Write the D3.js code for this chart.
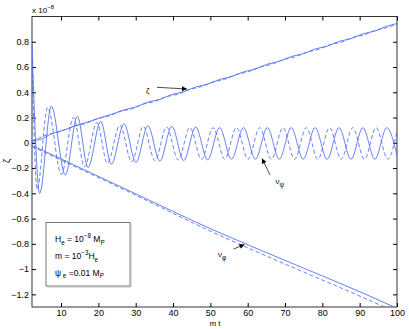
<!DOCTYPE html>
<html>
<head>
<meta charset="utf-8">
<script src="https://cdn.jsdelivr.net/npm/d3@7"></script>
<style>
  body { margin: 0; background: #fff; }
  text { font-family: "Liberation Sans", Arial, sans-serif; fill: #000; }
</style>
</head>
<body>
<div id="chart"></div>
<script>
// tick values
const xTicks = [10, 20, 30, 40, 50, 60, 70, 80, 90, 100];
const yTicks = [0.8, 0.6, 0.4, 0.2, 0, -0.2, -0.4, -0.6, -0.8, -1, -1.2];

// zeta (solid / dashed), [m t, value x 1e-8]
const zetaSolid = [
  [2.22, 0.02], [4.28, 0.025], [7.39, 0.07], [11.14, 0.105], [14.36, 0.14],
  [17.23, 0.165], [20.63, 0.2], [23.47, 0.225], [26.87, 0.26], [30.07, 0.284],
  [33.27, 0.322], [36.47, 0.344], [39.67, 0.382], [42.87, 0.404], [46.07, 0.442],
  [49.27, 0.464], [52.47, 0.502], [55.67, 0.524], [58.87, 0.562], [62.07, 0.584],
  [65.27, 0.623], [68.47, 0.645], [71.67, 0.683], [74.87, 0.705], [78.07, 0.743],
  [81.27, 0.765], [84.47, 0.803], [87.67, 0.825], [90.87, 0.863], [94.07, 0.885],
  [97.27, 0.923], [100, 0.945]
];
const zetaDashed = [
  [2.22, 0.012], [3.6, 0.031], [6.4, 0.065], [10.1, 0.092], [13.3, 0.13],
  [16.3, 0.15], [19.6, 0.189], [22.4, 0.208], [25.8, 0.248], [28.92, 0.269],
  [32.04, 0.306], [35.16, 0.328], [38.27, 0.365], [41.39, 0.386], [44.51, 0.423],
  [47.63, 0.445], [50.74, 0.482], [53.86, 0.503], [56.98, 0.541], [60.1, 0.562],
  [63.22, 0.599], [66.34, 0.621], [69.45, 0.658], [72.57, 0.679], [75.69, 0.716],
  [78.81, 0.738], [81.92, 0.775], [85.04, 0.796], [88.16, 0.834], [91.28, 0.855],
  [94.4, 0.892], [97.52, 0.914], [100, 0.941]
];

// nu_psi, oscillating (peaks and troughs)
const nuPsiSolid = [
  [2.22, 0.78], [4.28, -0.4], [7.39, 0.29], [11.14, -0.255], [14.36, 0.21],
  [17.23, -0.195], [20.63, 0.17], [23.47, -0.17], [26.87, 0.15], [30.07, -0.155],
  [33.27, 0.135], [36.47, -0.145], [39.67, 0.13], [42.87, -0.14], [46.07, 0.125],
  [49.27, -0.135], [52.47, 0.12], [55.67, -0.13], [58.87, 0.12], [62.07, -0.13],
  [65.27, 0.12], [68.47, -0.13], [71.67, 0.12], [74.87, -0.13], [78.07, 0.12],
  [81.27, -0.13], [84.47, 0.12], [87.67, -0.13], [90.87, 0.12], [94.07, -0.13],
  [97.27, 0.12], [100, -0.1]
];
const nuPsiDashed = [
  [2.22, 0.65], [3.6, -0.37], [6.4, 0.28], [10.1, -0.25], [13.3, 0.2],
  [16.3, -0.19], [19.6, 0.16], [22.4, -0.16], [25.8, 0.14], [28.92, -0.15],
  [32.04, 0.13], [35.16, -0.14], [38.27, 0.125], [41.39, -0.135], [44.51, 0.12],
  [47.63, -0.13], [50.74, 0.12], [53.86, -0.13], [56.98, 0.12], [60.1, -0.13],
  [63.22, 0.12], [66.34, -0.13], [69.45, 0.12], [72.57, -0.13], [75.69, 0.12],
  [78.81, -0.13], [81.92, 0.12], [85.04, -0.13], [88.16, 0.12], [91.28, -0.13],
  [94.4, 0.12], [97.52, -0.13], [100, 0.095]
];

// nu_phi, falling lines
const nuPhiSolid = [[2.22, -0.02], [27.9, -0.375], [50.8, -0.69], [70, -0.931], [90.9, -1.19], [100, -1.31]];
const nuPhiDashed = [[2.22, -0.03], [27.9, -0.385], [50.8, -0.71], [70, -0.96], [90.9, -1.225], [100, -1.345]];

const width = 409, height = 329;
const margin = { top: 16.5, right: 12, bottom: 22, left: 32 };
const lineColor = "#4a6af3";

const svg = d3.select("#chart").append("svg")
  .attr("width", width)
  .attr("height", height);

const x = d3.scaleLinear().domain([2.22, 100]).range([margin.left, width - margin.right]);
const y = d3.scaleLinear().domain([-1.3, 1.0]).range([height - margin.bottom, margin.top]);

// clip lines to the axes box
svg.append("clipPath").attr("id", "plot-clip")
  .append("rect")
  .attr("x", margin.left).attr("y", margin.top)
  .attr("width", width - margin.left - margin.right)
  .attr("height", height - margin.top - margin.bottom);

const fmt = d => d3.format("")(d);

// axes: ticks point inward, like the original
svg.append("g")
  .attr("transform", `translate(0,${height - margin.bottom})`)
  .call(d3.axisBottom(x).tickValues(xTicks).tickSize(-4).tickPadding(3).tickSizeOuter(0))
  .call(g => g.selectAll("text").style("font-size", "9px"));
svg.append("g")
  .attr("transform", `translate(0,${margin.top})`)
  .call(d3.axisTop(x).tickValues(xTicks).tickSize(-4).tickSizeOuter(0).tickFormat(""));
svg.append("g")
  .attr("transform", `translate(${margin.left},0)`)
  .call(d3.axisLeft(y).tickValues(yTicks).tickSize(-4).tickPadding(3).tickSizeOuter(0).tickFormat(fmt))
  .call(g => g.selectAll("text").style("font-size", "9px"));
svg.append("g")
  .attr("transform", `translate(${width - margin.right},0)`)
  .call(d3.axisRight(y).tickValues(yTicks).tickSize(-4).tickSizeOuter(0).tickFormat(""));

svg.selectAll(".domain").remove();
svg.append("rect")
  .attr("x", margin.left).attr("y", margin.top)
  .attr("width", width - margin.left - margin.right)
  .attr("height", height - margin.top - margin.bottom)
  .attr("fill", "none").attr("stroke", "#000").attr("stroke-width", 0.8);

// curves
const line = d3.line()
  .x(d => x(d[0]))
  .y(d => y(d[1]))
  .curve(d3.curveMonotoneX);

const series = [
  [zetaSolid, false], [zetaDashed, true],
  [nuPsiSolid, false], [nuPsiDashed, true],
  [nuPhiSolid, false], [nuPhiDashed, true]
];
svg.append("g").attr("clip-path", "url(#plot-clip)")
  .selectAll("path")
  .data(series)
  .join("path")
  .attr("d", d => line(d[0]))
  .attr("fill", "none")
  .attr("stroke", lineColor)
  .attr("stroke-width", 0.85)
  .attr("stroke-dasharray", d => d[1] ? "4,2.5" : null);

// annotation arrows
svg.append("defs").append("marker")
  .attr("id", "head")
  .attr("viewBox", "0 0 10 10")
  .attr("refX", 10).attr("refY", 5)
  .attr("markerWidth", 6).attr("markerHeight", 5)
  .attr("markerUnits", "userSpaceOnUse")
  .attr("orient", "auto")
  .append("path").attr("d", "M0,0L10,5L0,10Z").attr("fill", "#000");

const arrows = [
  [157, 87.3, 187, 89],
  [270, 175, 262, 158.5],
  [233.5, 249, 244.5, 244.5]
];
svg.selectAll(".arrow")
  .data(arrows)
  .join("line")
  .attr("class", "arrow")
  .attr("x1", d => d[0]).attr("y1", d => d[1])
  .attr("x2", d => d[2]).attr("y2", d => d[3])
  .attr("stroke", "#000").attr("stroke-width", 0.7)
  .attr("marker-end", "url(#head)");

// curve labels
function label(px, py, main, sub) {
  const t = svg.append("text").attr("x", px).attr("y", py).style("font-size", "8px");
  t.append("tspan").text(main);
  if (sub) t.append("tspan").attr("dy", 3).style("font-size", "6.5px").text(sub);
}
label(146, 93, "ζ");
label(275.5, 184, "ν", "ψ");
label(218, 257, "ν", "φ");

// exponent at top left
const ex = svg.append("text").attr("x", 32).attr("y", 13).style("font-size", "8px");
ex.append("tspan").text("x 10");
ex.append("tspan").attr("dy", -4).style("font-size", "6px").text("−8");

// axis labels
svg.append("text")
  .attr("x", 215).attr("y", 326)
  .attr("text-anchor", "middle")
  .style("font-size", "8px")
  .text("m t");
svg.append("text")
  .attr("transform", "translate(10,161) rotate(-90)")
  .attr("text-anchor", "middle")
  .style("font-size", "9px")
  .text("ζ");

// parameter box
svg.append("rect")
  .attr("x", 46).attr("y", 222.5).attr("width", 84).attr("height", 63.5)
  .attr("fill", "#fff").attr("stroke", "#777").attr("stroke-width", 1);
svg.append("path")
  .attr("d", "M131,223.5V287H47")
  .attr("fill", "none").attr("stroke", "#bbb").attr("stroke-width", 1);

const boxLines = [
  { y: 242, parts: [["H"], ["e", "sub"], [" = 10"], ["−8", "sup"], [" M"], ["P", "sub"]] },
  { y: 259, parts: [["m  = 10"], ["−3", "sup"], ["H"], ["e", "sub"]] },
  { y: 275.5, parts: [["ψ"], [" e", "sub"], [" =0.01 M"], ["P", "sub"]] }
];
boxLines.forEach(l => {
  const t = svg.append("text").attr("x", 55).attr("y", l.y).style("font-size", "8.5px");
  let shift = 0;
  l.parts.forEach(p => {
    const target = p[1] === "sub" ? 2.5 : p[1] === "sup" ? -4 : 0;
    t.append("tspan")
      .attr("dy", target - shift)
      .style("font-size", p[1] ? "6.3px" : "8.5px")
      .text(p[0]);
    shift = target;
  });
});
</script>
</body>
</html>
